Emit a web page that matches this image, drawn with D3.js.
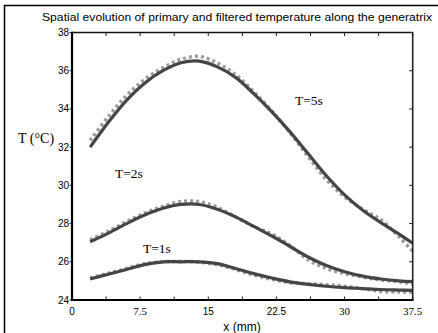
<!DOCTYPE html>
<html><head><meta charset="utf-8">
<script src="https://cdn.jsdelivr.net/npm/d3@7"></script>
<style>html,body{margin:0;padding:0;background:#fff;overflow:hidden}</style>
</head><body>
<script>
const xs = [2, 4, 6, 8, 10, 12, 14, 16, 18, 20, 22, 24, 26, 28, 30, 32, 34, 36, 37.5];
const filtered5 = [32.0, 33.3, 34.45, 35.35, 36.0, 36.42, 36.5, 36.2, 35.65, 34.8, 33.85, 32.8, 31.65, 30.5, 29.5, 28.7, 28.05, 27.45, 26.97];
const primary5  = [32.35, 33.6, 34.7, 35.55, 36.15, 36.6, 36.75, 36.4, 35.8, 34.9, 33.9, 32.75, 31.5, 30.3, 29.4, 28.75, 28.2, 27.3, 26.55];
const filtered2 = [27.05, 27.5, 28.0, 28.45, 28.8, 29.0, 29.0, 28.75, 28.35, 27.85, 27.35, 26.8, 26.25, 25.8, 25.48, 25.25, 25.1, 25.0, 24.96];
const primary2  = [27.15, 27.6, 28.1, 28.55, 28.9, 29.15, 29.15, 28.85, 28.35, 27.85, 27.45, 26.85, 26.1, 25.65, 25.38, 25.2, 25.05, 24.95, 24.85];
const filtered1 = [25.1, 25.35, 25.6, 25.85, 26.0, 26.0, 26.0, 25.9, 25.65, 25.38, 25.15, 24.95, 24.82, 24.72, 24.65, 24.6, 24.55, 24.52, 24.5];
const primary1  = [25.15, 25.4, 25.65, 25.9, 26.0, 26.02, 25.98, 25.85, 25.6, 25.3, 25.08, 24.9, 24.85, 24.8, 24.72, 24.6, 24.45, 24.42, 24.4];
const yTicks = [24, 26, 28, 30, 32, 34, 36, 38];
const xTicks = [0, 3.75, 7.5, 11.25, 15, 18.75, 22.5, 26.25, 30, 33.75, 37.5];
const xTickLabels = [
  {v: 0, t: "0", serif: false},
  {v: 7.5, t: "7.5", serif: true},
  {v: 15, t: "15", serif: false},
  {v: 22.5, t: "22.5", serif: false},
  {v: 30, t: "30", serif: true},
  {v: 37.5, t: "37.5", serif: true}
];
const annotations = [
  {t: "T=5s", x: 295, y: 105},
  {t: "T=2s", x: 115, y: 178},
  {t: "T=1s", x: 143, y: 253}
];
const title = "Spatial evolution of primary and filtered temperature along the generatrix";

const W = 438, H = 333;
const svg = d3.select("body").append("svg").attr("width", W).attr("height", H);
const sans = "'Liberation Sans', Arial, sans-serif";
const serif = "'Liberation Serif', 'Times New Roman', serif";

// outer frame
svg.append("rect").attr("x", 4.5).attr("y", 5.5).attr("width", 500).attr("height", 400)
  .attr("fill", "none").attr("stroke", "#000").attr("stroke-width", 1.5);

const x = d3.scaleLinear().domain([0, 37.5]).range([72, 412.7]);
const y = d3.scaleLinear().domain([24, 38]).range([300, 32.5]);

// title
svg.append("text").attr("x", 42).attr("y", 21).attr("font-family", sans).attr("font-size", 11.5)
  .attr("textLength", 390).attr("lengthAdjust", "spacingAndGlyphs").text(title);

// curves
const line = d3.line().x((d, i) => x(xs[i])).y(d => y(d)).curve(d3.curveCatmullRom);
[primary5, primary2, primary1].forEach(s => {
  svg.append("path").attr("d", line(s)).attr("fill", "none").attr("stroke", "#9c9c9c")
    .attr("stroke-width", 3.5).attr("stroke-dasharray", "3,3");
});
[filtered5, filtered2, filtered1].forEach(s => {
  svg.append("path").attr("d", line(s)).attr("fill", "none").attr("stroke", "#454545")
    .attr("stroke-width", 3.2);
});

// box: top and right
svg.append("line").attr("x1", x(0)).attr("x2", x(37.5)).attr("y1", y(38)).attr("y2", y(38))
  .attr("stroke", "#111").attr("stroke-width", 1.6);
svg.append("line").attr("x1", x(37.5)).attr("x2", x(37.5)).attr("y1", y(38)).attr("y2", y(24))
  .attr("stroke", "#222").attr("stroke-width", 1.6);

// ticks
const tg = svg.append("g").attr("stroke", "#222").attr("stroke-width", 1);
xTicks.forEach(v => {
  tg.append("line").attr("x1", x(v)).attr("x2", x(v)).attr("y1", y(24)).attr("y2", y(24) - 3.5);
  tg.append("line").attr("x1", x(v)).attr("x2", x(v)).attr("y1", y(38)).attr("y2", y(38) + 3.5);
});
yTicks.forEach(v => {
  tg.append("line").attr("x1", x(37.5)).attr("x2", x(37.5) - 3.5).attr("y1", y(v)).attr("y2", y(v));
  tg.append("line").attr("x1", x(0)).attr("x2", x(0) - 2.5).attr("y1", y(v)).attr("y2", y(v));
});

// left and bottom axes (thick)
svg.append("line").attr("x1", x(0)).attr("x2", x(0)).attr("y1", y(38) - 0.8).attr("y2", y(24) + 1)
  .attr("stroke", "#000").attr("stroke-width", 2.2);
svg.append("line").attr("x1", x(0) - 1).attr("x2", x(37.5) + 0.8).attr("y1", y(24)).attr("y2", y(24))
  .attr("stroke", "#000").attr("stroke-width", 2.2);

// y tick labels
svg.append("g").selectAll("text").data(yTicks).join("text")
  .attr("x", 69).attr("y", d => y(d) + 3.5).attr("text-anchor", "end")
  .attr("font-family", sans).attr("font-size", 10).text(d => d);

// x tick labels
svg.append("g").selectAll("text").data(xTickLabels).join("text")
  .attr("x", d => x(d.v)).attr("y", 315).attr("text-anchor", "middle")
  .attr("font-family", d => d.serif ? serif : sans).attr("font-size", d => d.serif ? 11 : 10)
  .text(d => d.t);

// axis titles
svg.append("text").attr("x", 242).attr("y", 330.5).attr("text-anchor", "middle")
  .attr("font-family", sans).attr("font-size", 12).text("x (mm)");
svg.append("text").attr("x", 18).attr("y", 143).attr("font-family", serif).attr("font-size", 14)
  .text("T (°C)");

// annotations
svg.append("g").selectAll("text").data(annotations).join("text")
  .attr("x", d => d.x).attr("y", d => d.y).attr("font-family", serif).attr("font-size", 13.5)
  .text(d => d.t);
</script>
</body></html>
